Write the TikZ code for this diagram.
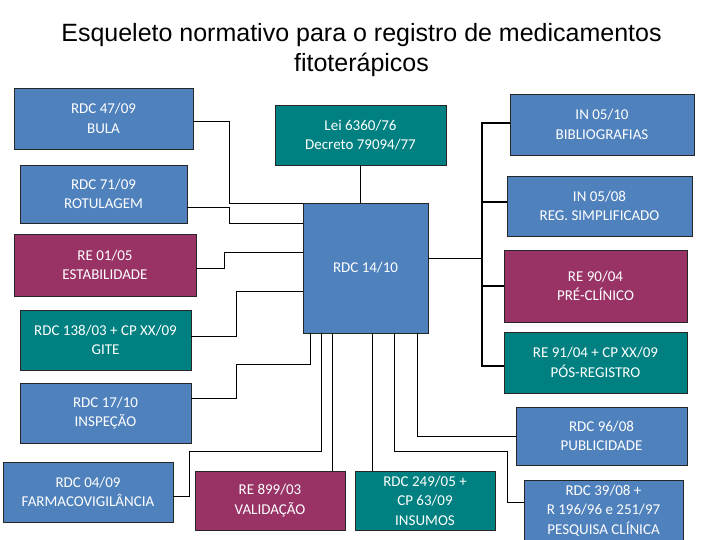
\documentclass[tikz,border=0pt]{standalone}
\usepackage{fontspec}
\setmainfont{Liberation Sans}
\newfontfamily\boxfont{Carlito}
\usetikzlibrary{positioning}
\definecolor{normblue}{HTML}{4F81BD}
\definecolor{normteal}{HTML}{008080}
\definecolor{normwine}{HTML}{993366}

\begin{document}
\begin{tikzpicture}[x=1pt, y=-1pt,
    box/.style={draw=black!85, line width=0.9pt, fill=#1, text=white, inner sep=0pt, outer sep=0pt, align=center, font=\boxfont\fontsize{15}{19.5}\selectfont},
    link/.style={line width=0.8pt, color=black},
    bus/.style={line width=2.4pt, color=black}
]
\useasboundingbox (0,0) rectangle (720,540);

\node[align=center, font=\fontsize{25}{30}\selectfont] (title) at (361.5,50) {Esqueleto normativo para o registro de medicamentos\\fitoterápicos};

% left column
\node[box=normblue, minimum width=179pt, minimum height=61pt] (bula) at (103.5,118.5) {RDC 47/09\\BULA};
\node[box=normblue, minimum width=167pt, minimum height=58pt] (rotulagem) at (103.5,194) {RDC 71/09\\ROTULAGEM};
\node[box=normwine, minimum width=182pt, minimum height=62pt] (estab) at (105,265) {RE 01/05\\ESTABILIDADE};
\node[box=normteal, minimum width=171pt, minimum height=60pt] (gite) at (105.5,340) {RDC 138/03 + CP XX/09\\GITE};
\node[box=normblue, minimum width=171pt, minimum height=60pt] (inspecao) at (105.5,413) {RDC 17/10\\INSPEÇÃO};
\node[box=normblue, minimum width=170pt, minimum height=60pt] (farmaco) at (88,492) {RDC 04/09\\FARMACOVIGILÂNCIA};

% centre
\node[box=normteal, minimum width=171pt, minimum height=60pt] (lei) at (360.5,135) {Lei 6360/76\\Decreto 79094/77};
\node[box=normblue, minimum width=125pt, minimum height=130pt] (rdc) at (365.5,268) {RDC 14/10};
\node[box=normwine, minimum width=150pt, minimum height=59pt] (validacao) at (270,500.5) {RE 899/03\\VALIDAÇÃO};
\node[box=normteal, minimum width=140pt, minimum height=59pt] (insumos) at (425,500.5) {RDC 249/05 +\\CP 63/09\\INSUMOS};

% right column
\node[box=normblue, minimum width=184pt, minimum height=61pt] (biblio) at (602,124.5) {IN 05/10\\BIBLIOGRAFIAS};
\node[box=normblue, minimum width=185pt, minimum height=60pt] (regsimp) at (599.5,206) {IN 05/08\\REG. SIMPLIFICADO};
\node[box=normwine, minimum width=183pt, minimum height=72pt] (preclin) at (595.5,286) {RE 90/04\\PRÉ-CLÍNICO};
\node[box=normteal, minimum width=183pt, minimum height=61pt] (posreg) at (595.5,362.5) {RE 91/04 + CP XX/09\\PÓS-REGISTRO};
\node[box=normblue, minimum width=171pt, minimum height=58pt] (public) at (601.5,436) {RDC 96/08\\PUBLICIDADE};
\node[box=normblue, minimum width=159pt, minimum height=61pt] (pesquisa) at (603.5,510.5) {RDC 39/08 +\\R 196/96 e 251/97\\PESQUISA CLÍNICA};

% feet on the central box
\coordinate (rdcb1) at ([xshift=7pt]rdc.south west);
\coordinate (rdcb2) at ([xshift=18pt]rdc.south west);
\coordinate (rdcb3) at ([xshift=29pt]rdc.south west);
\coordinate (rdcb4) at ([xshift=69pt]rdc.south west);
\coordinate (rdcb5) at ([xshift=91pt]rdc.south west);
\coordinate (rdcb6) at ([xshift=114pt]rdc.south west);
\coordinate (rdcr) at ([yshift=10pt]rdc.east);
\coordinate (busx) at ([xshift=-28pt]biblio.west);
\coordinate (regin) at ([yshift=4pt]regsimp.west);

% thin links
\draw[link] (lei.south) -- (lei.south |- rdc.north);
\draw[link] ([yshift=-2.5pt]bula.east) -- ++(36,0) |- (rdc.north west);
\draw[link] ([yshift=-13pt]rotulagem.east) -- ++(42,0) |- ([yshift=-20pt]rdc.north west);
\draw[link] ([yshift=-3pt]estab.east) -- ++(28,0) |- ([yshift=16pt]rdc.west);
\draw[link] ([yshift=4pt]gite.east) -- ++(45,0) |- ([yshift=-23pt]rdc.west);
\draw[link] ([yshift=15pt]inspecao.east) -| ++(45,-34) -| (rdcb1);
\draw[link] ([yshift=-4pt]farmaco.east) -| ++(16,-45) -| (rdcb2);
\draw[link] (rdcb3) -- (rdcb3 |- validacao.north);
\draw[link] (rdcb4) -- (rdcb4 |- insumos.north);
\draw[link] (rdcb5) |- ++(113,118) |- ([yshift=8pt]pesquisa.west);
\draw[link] (rdcb6) |- (public.west);
\draw[link] (rdcr) -- (rdcr -| busx);

% thick bus to the right column
\draw[bus] ([yshift=1.5pt]biblio.west) -| (busx) |- ([yshift=-3.5pt]posreg.west);
\draw[bus] (regin) -- (busx |- regin);
\draw[bus] (preclin.west) -- (busx |- preclin.west);
\end{tikzpicture}
\end{document}
